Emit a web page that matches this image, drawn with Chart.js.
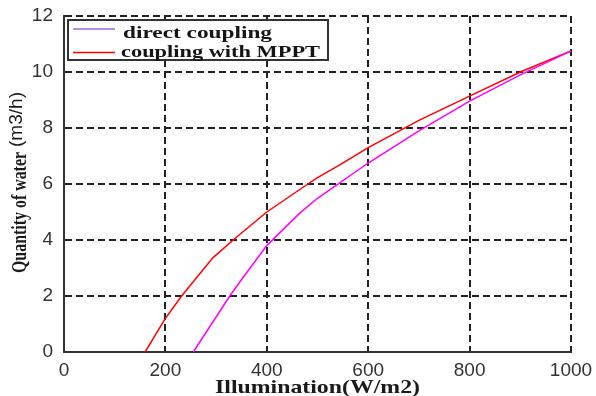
<!DOCTYPE html>
<html><head><meta charset="utf-8">
<script src="https://cdn.jsdelivr.net/npm/chart.js"></script>
<style>html,body{margin:0;padding:0;background:#fff}#wrap{width:596px;height:396px}</style>
</head><body><div id="wrap"><canvas id="c" width="596" height="396"></canvas></div>
<script>
// ---- data ----
const directX = [255, 300, 327, 347, 400, 465, 500, 600, 700, 800, 900, 1000];
const directY = [0, 1.25, 2.0, 2.51, 3.8, 4.96, 5.49, 6.75, 7.9, 8.96, 9.9, 10.75];
const mpptX = [160, 200, 232, 294, 340, 400, 481, 500, 544, 600, 700, 800, 900, 1000];
const mpptY = [0, 1.2, 2.0, 3.37, 4.1, 5.0, 6.0, 6.23, 6.68, 7.3, 8.27, 9.14, 10.0, 10.75];
const xTicks = [0, 200, 400, 600, 800, 1000];
const yTicks = [0, 2, 4, 6, 8, 10, 12];
const seriesNames = ['direct coupling', 'coupling with MPPT'];
const seriesColors = ['#ff00ff', '#ff0000'];
const legendColors = ['#9966dd', '#ff0000'];
const xTitle = 'Illumination(W/m2)';
const yTitleMain = 'Quantity of water';
const yTitleUnit = '(m3/h)';

function pts(xs, ys) { return xs.map((x, i) => ({x: x, y: ys[i]})); }

function stretchText(ctx, text, x, y, font, w) {
  ctx.save();
  ctx.font = font;
  const m = ctx.measureText(text).width;
  ctx.translate(x, y);
  ctx.scale(w / m, 1);
  ctx.textAlign = 'left';
  ctx.fillText(text, 0, 0);
  ctx.restore();
}

const decor = {
  id: 'decor',
  afterDraw(chart) {
    const ctx = chart.ctx;
    // legend box
    ctx.save();
    ctx.fillStyle = '#fff';
    ctx.fillRect(68, 20, 260, 40);
    ctx.lineWidth = 2;
    ctx.strokeStyle = '#333';
    ctx.strokeRect(68, 20, 260, 40);
    const rows = [29, 52.5];
    const textX = [123, 121];
    const textW = [149, 199];
    const baseY = [38, 57];
    for (let i = 0; i < seriesNames.length; i++) {
      ctx.strokeStyle = legendColors[i];
      ctx.lineWidth = 1.5;
      ctx.beginPath();
      ctx.moveTo(73, rows[i]);
      ctx.lineTo(115, rows[i]);
      ctx.stroke();
      ctx.fillStyle = '#151515';
      ctx.textBaseline = 'alphabetic';
      stretchText(ctx, seriesNames[i], textX[i], baseY[i], 'bold 17px "Liberation Serif"', textW[i]);
    }
    // x title
    ctx.fillStyle = '#1a1a1a';
    ctx.textBaseline = 'alphabetic';
    stretchText(ctx, xTitle, 215, 393, 'bold 19px "Liberation Serif"', 205);
    // y title (rotated)
    ctx.save();
    ctx.translate(26, 273);
    ctx.rotate(-Math.PI / 2);
    stretchText(ctx, yTitleMain, 0, 0, 'bold 21px "Liberation Serif"', 121);
    ctx.restore();
    ctx.save();
    ctx.translate(22, 147);
    ctx.rotate(-Math.PI / 2);
    stretchText(ctx, yTitleUnit, 0, 0, '18px "Liberation Sans"', 55);
    ctx.restore();
    ctx.restore();
  }
};

new Chart(document.getElementById('c'), {
  type: 'line',
  data: {
    datasets: [
      {label: seriesNames[0], data: pts(directX, directY), borderColor: seriesColors[0], borderWidth: 1.5, pointRadius: 0, tension: 0, fill: false},
      {label: seriesNames[1], data: pts(mpptX, mpptY), borderColor: seriesColors[1], borderWidth: 1.5, pointRadius: 0, tension: 0, fill: false}
    ]
  },
  options: {
    responsive: false,
    devicePixelRatio: 1,
    animation: false,
    layout: {padding: {top: 16, right: 25, left: 0, bottom: 0}},
    plugins: {legend: {display: false}, tooltip: {enabled: false}},
    scales: {
      x: {
        type: 'linear', min: 0, max: 1000,
        afterBuildTicks: s => { s.ticks = xTicks.map(v => ({value: v})); },
        afterFit: s => { s.height = 44; s.paddingLeft = 0; s.paddingRight = 0; },
        grid: {color: '#222', lineWidth: 2, drawTicks: false},
        border: {display: true, color: '#333', width: 2, dash: [7, 4]},
        ticks: {padding: 7, color: '#333', font: {family: '"Liberation Sans"', size: 19}, maxRotation: 0, autoSkip: false, callback: v => String(v)}
      },
      y: {
        type: 'linear', min: 0, max: 12,
        afterBuildTicks: s => { s.ticks = yTicks.map(v => ({value: v})); },
        afterFit: s => { s.width = 64; s.paddingTop = 0; s.paddingBottom = 0; },
        grid: {color: '#222', lineWidth: 2, drawTicks: false},
        border: {display: true, color: '#333', width: 2, dash: [7, 4]},
        ticks: {padding: 11, color: '#333', font: {family: '"Liberation Sans"', size: 19}, autoSkip: false, callback: v => String(v)}
      }
    }
  },
  plugins: [decor]
});
</script>
</body></html>
